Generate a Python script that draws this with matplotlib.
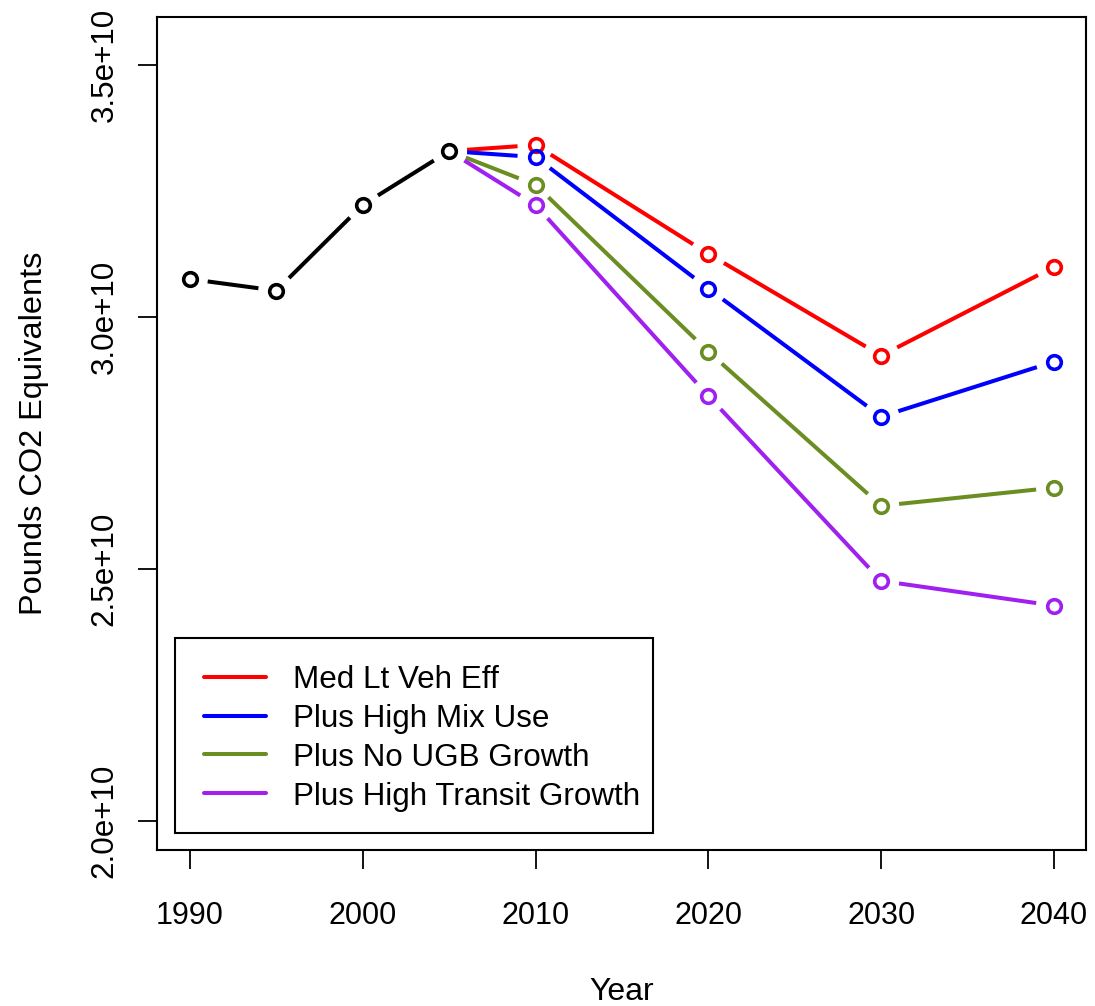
import numpy as np
import matplotlib.pyplot as plt
from matplotlib.patches import Rectangle

plt.rcParams['font.family'] = ['Liberation Sans', 'DejaVu Sans']

# historical emissions, shared by every scenario
hist_years = [1990, 1995, 2000, 2005]
hist_co2 = [3.075e10, 3.052e10, 3.222e10, 3.329e10]

# scenario projections (each starts from the 2005 value)
proj_years = [2005, 2010, 2020, 2030, 2040]
med_lt_veh = [3.329e10, 3.341e10, 3.125e10, 2.923e10, 3.099e10]
high_mix = [3.329e10, 3.317e10, 3.056e10, 2.802e10, 2.911e10]
no_ugb = [3.329e10, 3.262e10, 2.931e10, 2.625e10, 2.661e10]
high_transit = [3.329e10, 3.222e10, 2.843e10, 2.476e10, 2.427e10]

scen_names = ['Med Lt Veh Eff', 'Plus High Mix Use', 'Plus No UGB Growth',
              'Plus High Transit Growth']
scen_colors = ['#ff0000', '#0000ff', '#6b8e23', '#a020f0']
scen_values = [med_lt_veh, high_mix, no_ugb, high_transit]

x_ticks = [1990, 2000, 2010, 2020, 2030, 2040]
y_ticks = [2.0e10, 2.5e10, 3.0e10, 3.5e10]
y_ticklabels = ['2.0e+10', '2.5e+10', '3.0e+10', '3.5e+10']

fs = 22.6
lw = 2.9

W, H = 1095, 1006
L, R, T, B = 157, 1086, 17, 850
fig = plt.figure(figsize=(W/100, H/100), dpi=100)
ax = fig.add_axes([L/W, 1 - B/H, (R-L)/W, (B-T)/H])
ax.set_xlim(1988.1, 2041.85)
ax.set_ylim(1.942e10, 3.595e10)


def gap_line(xs, ys, color, gap=18):
    # R style type="b": segments stop short of each point
    pts = ax.transData.transform(np.column_stack([xs, ys]))
    inv = ax.transData.inverted()
    for p0, p1 in zip(pts[:-1], pts[1:]):
        d = p1 - p0
        n = np.hypot(*d)
        if n <= 2*gap:
            continue
        u = d / n
        a = inv.transform(p0 + u*gap)
        b = inv.transform(p1 - u*gap)
        ax.plot([a[0], b[0]], [a[1], b[1]], color=color, lw=lw,
                solid_capstyle='butt')


fig.canvas.draw()
for vals, col in zip(scen_values, scen_colors):
    gap_line(proj_years, vals, col)
    ax.plot(proj_years[1:], vals[1:], 'o', ms=9.8, mfc='none', mec=col, mew=2.6)
gap_line(hist_years, hist_co2, 'black')
ax.plot(hist_years, hist_co2, 'o', ms=9.8, mfc='none', mec='black', mew=2.6)

ax.set_xticks(x_ticks)
ax.set_xticklabels([str(y) for y in x_ticks], fontsize=22)
ax.set_yticks(y_ticks)
ax.set_yticklabels(y_ticklabels, fontsize=fs, rotation=90, va='center')
ax.tick_params(length=14, width=1.3, color='black')
ax.tick_params(axis='x', pad=23)
ax.tick_params(axis='y', pad=13)
for s in ax.spines.values():
    s.set_linewidth(1.5)

ax.set_xlabel('Year', fontsize=23, labelpad=33)
ax.set_ylabel('Pounds CO2 Equivalents', fontsize=23.4, labelpad=29)


# legend box drawn by hand, in pixel offsets from the axes corner
def ax_xy(px, py):
    return (px - L) / (R - L), (B - py) / (B - T)


x0, y0 = ax_xy(175, 833)
x1, y1 = ax_xy(653, 638)
ax.add_patch(Rectangle((x0, y0), x1 - x0, y1 - y0, transform=ax.transAxes,
                       fill=False, ec='black', lw=1.5, zorder=5))
for i, (name, col) in enumerate(zip(scen_names, scen_colors)):
    py = 677 + i*38.7
    xa, ya = ax_xy(204, py)
    xb, _ = ax_xy(266, py)
    ax.plot([xa, xb], [ya, ya], color=col, lw=lw, solid_capstyle='round',
            transform=ax.transAxes, zorder=5)
    xt, _ = ax_xy(293, py)
    ax.text(xt, ya, name, transform=ax.transAxes, fontsize=fs,
            va='center_baseline', ha='left', zorder=5)

fig.savefig('out.png', dpi=100)
